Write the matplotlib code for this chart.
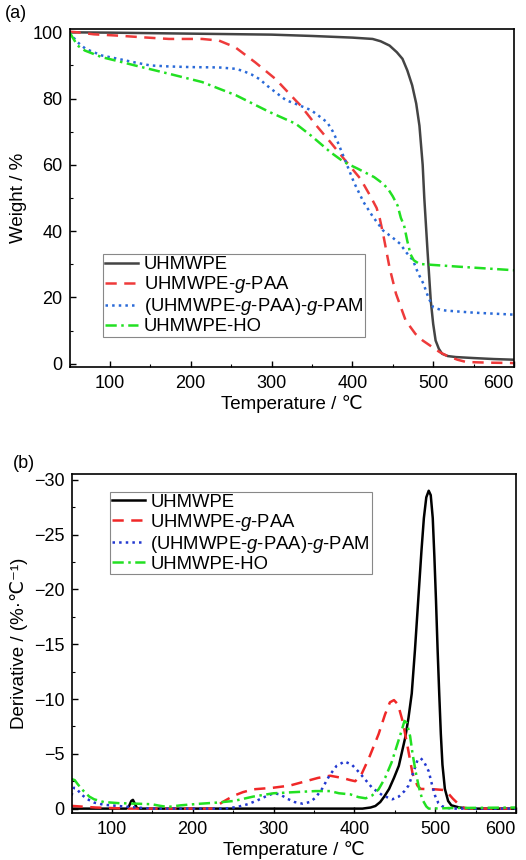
import matplotlib
matplotlib.use('Agg')
import matplotlib.pyplot as plt
from matplotlib.ticker import MultipleLocator

plt.rcParams['font.family'] = ['Liberation Sans', 'DejaVu Sans']
plt.rcParams['font.size'] = 13
plt.rcParams['mathtext.fontset'] = 'custom'
plt.rcParams['mathtext.rm'] = 'Liberation Sans'
plt.rcParams['mathtext.it'] = 'Liberation Sans:italic'

labels = ['UHMWPE', 'UHMWPE-$\\mathit{g}$-PAA',
          '(UHMWPE-$\\mathit{g}$-PAA)-$\\mathit{g}$-PAM', 'UHMWPE-HO']

# (a) TGA weight curves
tga_T_pe = [50, 100, 200, 300, 350, 400, 425, 435, 446, 455, 462, 468, 474, 479, 483,
            487, 489, 491, 493, 497, 500, 503, 507, 511, 518, 528, 550, 575, 600]
tga_W_pe = [100, 99.9, 99.6, 99.3, 98.9, 98.4, 98.0, 97.3, 96.0, 94.0, 92.0, 88.5, 84.0, 78.5, 71.8,
            60, 50, 42, 34, 19, 12, 7, 4.5, 3.0, 2.3, 2.0, 1.7, 1.4, 1.2]

tga_T_paa = [50, 60, 80, 110, 140, 173, 214, 235, 255, 280, 305, 330, 336, 355, 373, 393, 410,
             422, 430, 434, 438, 446, 454, 466, 478, 487, 499, 508, 516, 530, 541, 570, 600]
tga_W_paa = [100.2, 100, 99.4, 99.0, 98.5, 98.0, 98.0, 97.5, 95.5, 90.9, 85.9, 79.4, 77.9, 72, 66.8,
             60.8, 55.8, 50.7, 47, 43.7, 39.2, 29, 21.1, 13, 9, 7, 5, 3.5, 2.5, 1.2, 0.5, 0.3, 0.2]

tga_T_pam = [50, 53, 60, 70, 90, 110, 131, 150, 173, 200, 235, 255, 264, 275, 285, 295, 305, 318,
             330, 349, 360, 369, 376, 382, 392, 402, 414, 425, 438, 450, 459, 467, 475, 481, 488,
             494, 500, 510, 517, 550, 600]
tga_W_pam = [100, 99, 97, 95, 93, 92, 90.9, 90, 89.7, 89.5, 89.4, 89, 88.4, 87.3, 85.9, 83.8, 81.9,
             79.5, 78.4, 76.5, 74.5, 72.8, 70, 66.8, 60.8, 54.7, 48.7, 44.5, 40.2, 38, 36.2, 33.5,
             31.2, 27.5, 24.1, 20, 17, 16.2, 16, 15.4, 14.8]

tga_T_ho = [50, 55, 60, 69, 90, 110, 131, 173, 214, 256, 297, 330, 349, 373, 390, 407, 427, 437,
            444, 450, 456, 460, 464, 468, 472, 476, 483, 500, 530, 600]
tga_W_ho = [100, 98, 96, 94.5, 92.5, 91.3, 90, 87.5, 85, 81, 76, 72.4, 68.8, 63.8, 60.8, 58.8, 56.3,
            54.5, 52.8, 50.5, 47.7, 44, 41.7, 37, 33, 31.2, 30.1, 29.8, 29.3, 28.2]

# (b) DTG curves
dtg_T_pe = [50, 118, 121, 124, 126, 128, 131, 135, 410, 420, 426, 432, 437, 443, 449, 455, 459,
            463, 467, 471, 475, 479, 483, 486, 489, 492, 494.5, 497, 499, 501, 503, 505, 507, 509,
            512, 516, 520, 530, 545, 600]
dtg_D_pe = [0, 0, -0.2, -0.7, -0.8, -0.5, -0.05, 0, 0, -0.1, -0.24, -0.6, -1.1, -1.8, -2.8, -3.9,
            -5.2, -6.5, -8.3, -10.5, -14.5, -19, -23.5, -26.5, -28.4, -29.0, -28.6, -26.5, -23, -19,
            -14.5, -10.5, -6.8, -4.0, -1.8, -0.7, -0.3, -0.1, 0, 0]

dtg_T_paa = [50, 60, 80, 100, 120, 225, 237, 250, 262, 275, 299, 320, 340, 355, 370, 385, 395, 401,
             408, 418, 430, 438, 444, 449, 454, 460, 466, 472, 478, 482, 500, 510, 516, 522, 529,
             537, 600]
dtg_D_paa = [-0.25, -0.2, -0.1, -0.05, 0, 0, -0.6, -1.15, -1.5, -1.76, -1.9, -2.1, -2.5, -2.8, -3.0,
             -2.8, -2.6, -2.5, -3.0, -4.6, -6.8, -8.6, -9.7, -9.9, -9.5, -7.9, -5.6, -3.2, -2.1,
             -1.8, -1.76, -1.7, -1.4, -0.9, -0.4, 0, 0]

dtg_T_pam = [50, 53, 56, 62, 70, 78, 90, 108, 130, 150, 240, 255, 268, 280, 290, 300, 308, 317,
             326, 336, 345, 352, 360, 369, 378, 388, 397, 406, 414, 422, 435, 447, 455, 462, 467,
             473, 478, 482, 486, 492, 496, 500, 504, 508, 515, 525, 600]
dtg_D_pam = [-1.2, -1.9, -1.85, -1.3, -0.85, -0.55, -0.35, -0.24, -0.1, 0, 0, -0.15, -0.4, -0.75,
             -1.1, -1.4, -1.3, -0.9, -0.6, -0.45, -0.6, -1.0, -1.8, -3.0, -3.9, -4.3, -4.0, -3.3,
             -2.6, -1.9, -1.2, -0.85, -1.1, -1.6, -2.1, -3.3, -4.4, -4.6, -4.3, -3.4, -2.2, -1.15,
             -0.5, -0.24, -0.05, 0, 0]

dtg_T_ho = [50, 54, 58, 65, 72, 78, 90, 108, 130, 149, 160, 169, 185, 210, 230, 251, 275, 300, 325,
            352, 370, 381, 395, 405, 414, 422, 430, 438, 446, 452, 458, 462, 465, 469, 472, 476,
            480, 484, 489, 492, 520, 600]
dtg_D_ho = [-2.7, -2.6, -2.2, -1.6, -1.1, -0.85, -0.6, -0.5, -0.45, -0.4, -0.25, -0.15, -0.3, -0.45,
            -0.55, -0.7, -1.1, -1.4, -1.5, -1.6, -1.6, -1.4, -1.3, -1.05, -0.94, -1.2, -1.76, -2.8,
            -4.2, -5.6, -7.0, -8.0, -7.8, -6.6, -5.0, -3.3, -1.9, -0.85, -0.2, 0, -0.05, -0.1]

fig = plt.figure(figsize=(5.26, 8.6), dpi=100)
W, H = 526.0, 860.0
ax1 = fig.add_axes([69.5 / W, 1 - 367 / H, (514 - 69.5) / W, (367 - 29) / H])
ax2 = fig.add_axes([71.5 / W, 1 - 813 / H, (516 - 71.5) / W, (813 - 474.3) / H])

red = '#ee3a3a'
green = '#22e022'
lw = 1.8

ax1.plot(tga_T_pe, tga_W_pe, color='#444444', lw=lw, label=labels[0])
ax1.plot(tga_T_paa, tga_W_paa, color=red, lw=lw, dashes=(4.5, 3), label=labels[1])
ax1.plot(tga_T_pam, tga_W_pam, color='#2a6ad8', lw=lw, linestyle=':', label=labels[2])
ax1.plot(tga_T_ho, tga_W_ho, color=green, lw=lw, dashes=(4.5, 1.8, 1, 1.8), label=labels[3])

ax2.plot(dtg_T_pe, dtg_D_pe, color='black', lw=lw, label=labels[0])
ax2.plot(dtg_T_paa, dtg_D_paa, color='#f02828', lw=lw, dashes=(4.5, 3), label=labels[1])
ax2.plot(dtg_T_pam, dtg_D_pam, color='#2238d0', lw=lw, linestyle=':', label=labels[2])
ax2.plot(dtg_T_ho, dtg_D_ho, color=green, lw=lw, dashes=(4.5, 1.8, 1, 1.8), label=labels[3])

ax1.set_xlim(50, 600)
ax1.set_ylim(-1, 101)
ax1.yaxis.set_major_locator(MultipleLocator(20))
ax1.yaxis.set_minor_locator(MultipleLocator(10))
ax1.set_ylabel('Weight / %', labelpad=4, fontsize=13.5)

ax2.set_xlim(50, 600)
ax2.set_ylim(0.4, -30.5)
ax2.yaxis.set_major_locator(MultipleLocator(5))
ax2.yaxis.set_minor_locator(MultipleLocator(2.5))
ax2.set_ylabel('Derivative / (%·℃⁻¹)', labelpad=4, fontsize=13.5)

for ax in (ax1, ax2):
    ax.xaxis.set_major_locator(MultipleLocator(100))
    ax.xaxis.set_minor_locator(MultipleLocator(50))
    ax.tick_params(which='both', direction='in', top=False, right=False, labelsize=13)
    ax.tick_params(which='major', length=4, width=1.0)
    ax.tick_params(axis='x', which='major', pad=6)
    ax.tick_params(axis='y', which='major', pad=5)
    ax.tick_params(which='minor', length=2.5, width=0.8)
    for s in ax.spines.values():
        s.set_linewidth(1.2)
    ax.set_xlabel('Temperature / ℃', labelpad=2, fontsize=13.5)

leg_kw = dict(fontsize=13.3, fancybox=False, edgecolor='#888888', framealpha=1,
              borderpad=0.1, labelspacing=0.05, handlelength=1.8, handletextpad=0.3,
              borderaxespad=0)
leg1 = ax1.legend(loc='lower left', bbox_to_anchor=(0.076, 0.089), **leg_kw)
leg1.get_frame().set_linewidth(0.8)
leg2 = ax2.legend(loc='upper left', bbox_to_anchor=(0.086, 0.948), **leg_kw)
leg2.get_frame().set_linewidth(0.8)

fig.text(5 / W, 1 - 14 / H, '(a)', fontsize=13, va='center', ha='left')
fig.text(13 / W, 1 - 463 / H, '(b)', fontsize=13, va='center', ha='left')

# keep the last "600" label inside the figure, as in the original
fig.canvas.draw()
for ax in (ax1, ax2):
    for tick in ax.xaxis.get_major_ticks():
        if abs(tick.get_loc() - 600) < 1e-6:
            tick.label1.set_horizontalalignment('right')
            tick.label1.set_x(600)

fig.savefig('out.png', dpi=100)
